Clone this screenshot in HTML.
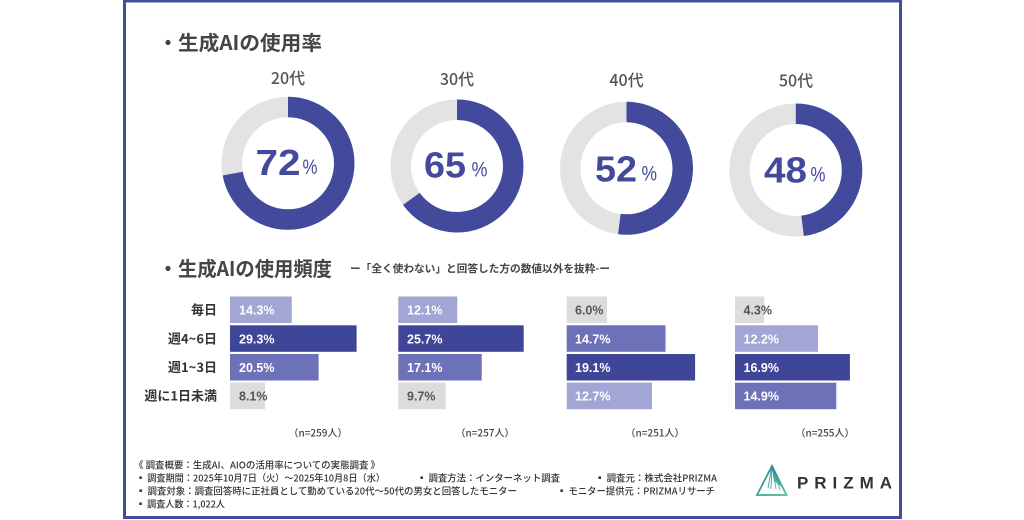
<!DOCTYPE html>
<html lang="ja">
<head>
<meta charset="utf-8">
<style>
  html,body{margin:0;padding:0;background:#ffffff;}
  body{width:1024px;height:520px;overflow:hidden;}
  svg{display:block;}
  .jp{font-family:"Noto Sans CJK JP","Liberation Sans",sans-serif;}
  .lat{font-family:"Liberation Sans","Noto Sans CJK JP",sans-serif;}
</style>
</head>
<body>
<svg width="1024" height="520" viewBox="0 0 1024 520" xmlns="http://www.w3.org/2000/svg">
  <defs>
    <linearGradient id="lg" x1="0" y1="0" x2="1" y2="1">
      <stop offset="0" stop-color="#2f7fa0"/>
      <stop offset="1" stop-color="#4fbf95"/>
    </linearGradient>
  </defs>
  <rect x="0" y="0" width="1024" height="520" fill="#ffffff"/>
  <!-- frame -->
  <rect x="124.5" y="1" width="776" height="516.5" fill="none" stroke="#464c9c" stroke-width="3"/>

  <!-- Title 1 -->
  <text class="jp" x="168" y="50" font-size="20" font-weight="700" fill="#444" text-anchor="middle">・</text>
  <text class="jp" x="178" y="50" font-size="20" font-weight="700" fill="#444" textLength="144" lengthAdjust="spacingAndGlyphs">生成AIの使用率</text>

  <!-- Age labels -->
  <g class="jp" font-size="16" font-weight="500" fill="#555" text-anchor="middle">
    <text x="288" y="84">20代</text>
    <text x="457" y="85">30代</text>
    <text x="626.5" y="86">40代</text>
    <text x="796" y="86.5">50代</text>
  </g>

  <!-- Donuts -->
  <g fill="none" stroke-width="20.5">
    <circle cx="288" cy="163.3" r="56.25" stroke="#e3e3e3"/>
    <circle cx="288" cy="163.3" r="56.25" stroke="#434a9b" stroke-dasharray="254.47 400" transform="rotate(-90 288 163.3)"/>
    <circle cx="457" cy="166" r="56.25" stroke="#e3e3e3"/>
    <circle cx="457" cy="166" r="56.25" stroke="#434a9b" stroke-dasharray="229.73 400" transform="rotate(-90 457 166)"/>
    <circle cx="626.5" cy="168.3" r="56.25" stroke="#e3e3e3"/>
    <circle cx="626.5" cy="168.3" r="56.25" stroke="#434a9b" stroke-dasharray="183.78 400" transform="rotate(-90 626.5 168.3)"/>
    <circle cx="795.8" cy="170" r="56.25" stroke="#e3e3e3"/>
    <circle cx="795.8" cy="170" r="56.25" stroke="#434a9b" stroke-dasharray="169.65 400" transform="rotate(-90 795.8 170)"/>
  </g>

  <!-- Donut numbers -->
  <g class="lat" font-weight="700" font-size="36" fill="#434a9b">
    <text x="255.5" y="175" textLength="45" lengthAdjust="spacingAndGlyphs">72</text>
    <text x="424" y="177.5" textLength="42" lengthAdjust="spacingAndGlyphs">65</text>
    <text x="595" y="181.5" textLength="42" lengthAdjust="spacingAndGlyphs">52</text>
    <text x="764" y="182.5" textLength="43" lengthAdjust="spacingAndGlyphs">48</text>
  </g>
  <g class="lat" font-weight="400" font-size="21" fill="#434a9b">
    <text x="302.5" y="174" textLength="15" lengthAdjust="spacingAndGlyphs">%</text>
    <text x="471.5" y="176.5" textLength="16" lengthAdjust="spacingAndGlyphs">%</text>
    <text x="641.5" y="180.5" textLength="15.5" lengthAdjust="spacingAndGlyphs">%</text>
    <text x="810.5" y="181.5" textLength="15" lengthAdjust="spacingAndGlyphs">%</text>
  </g>

  <!-- Title 2 -->
  <text class="jp" x="168" y="276" font-size="20" font-weight="700" fill="#444" text-anchor="middle">・</text>
  <text class="jp" x="178" y="276" font-size="20" font-weight="700" fill="#444" textLength="154" lengthAdjust="spacingAndGlyphs">生成AIの使用頻度</text>
  <text class="jp" x="350" y="272" font-size="10.5" font-weight="700" fill="#444" textLength="260" lengthAdjust="spacingAndGlyphs">ー「全く使わない」と回答した方の数値以外を抜粋-ー</text>

  <!-- Row labels -->
  <g class="jp" font-size="13" font-weight="700" fill="#333" text-anchor="end">
    <text x="217" y="314.5">毎日</text>
    <text x="217" y="343.3">週4~6日</text>
    <text x="217" y="372">週1~3日</text>
    <text x="217" y="400.7">週に1日未満</text>
  </g>

  <!-- Bars group 1 -->
  <g>
    <rect x="230" y="296.5" width="61.8" height="26.5" fill="#a3a6d5"/>
    <rect x="230" y="325.3" width="126.6" height="26.5" fill="#3f4597"/>
    <rect x="230" y="354" width="88.6" height="26.5" fill="#6d71b7"/>
    <rect x="230" y="382.7" width="35" height="26.5" fill="#dcdcdc"/>
  </g>
  <!-- group 2 -->
  <g>
    <rect x="398.3" y="296.5" width="59" height="26.5" fill="#a3a6d5"/>
    <rect x="398.3" y="325.3" width="125.4" height="26.5" fill="#3f4597"/>
    <rect x="398.3" y="354" width="83.4" height="26.5" fill="#6d71b7"/>
    <rect x="398.3" y="382.7" width="47.3" height="26.5" fill="#dcdcdc"/>
  </g>
  <!-- group 3 -->
  <g>
    <rect x="566.7" y="296.5" width="40.3" height="26.5" fill="#dcdcdc"/>
    <rect x="566.7" y="325.3" width="98.8" height="26.5" fill="#6d71b7"/>
    <rect x="566.7" y="354" width="128.4" height="26.5" fill="#3f4597"/>
    <rect x="566.7" y="382.7" width="85.3" height="26.5" fill="#a3a6d5"/>
  </g>
  <!-- group 4 -->
  <g>
    <rect x="735" y="296.5" width="29.2" height="26.5" fill="#dcdcdc"/>
    <rect x="735" y="325.3" width="83" height="26.5" fill="#a3a6d5"/>
    <rect x="735" y="354" width="114.9" height="26.5" fill="#3f4597"/>
    <rect x="735" y="382.7" width="101.3" height="26.5" fill="#6d71b7"/>
  </g>

  <!-- Bar values -->
  <g class="lat" font-size="12.5" font-weight="700" fill="#ffffff">
    <text x="239" y="314.5">14.3%</text>
    <text x="239" y="343.3">29.3%</text>
    <text x="239" y="372">20.5%</text>
    <text x="239" y="400.7" fill="#555">8.1%</text>

    <text x="407" y="314.5">12.1%</text>
    <text x="407" y="343.3">25.7%</text>
    <text x="407" y="372">17.1%</text>
    <text x="407" y="400.7" fill="#555">9.7%</text>

    <text x="575" y="314.5" fill="#555">6.0%</text>
    <text x="575" y="343.3">14.7%</text>
    <text x="575" y="372">19.1%</text>
    <text x="575" y="400.7">12.7%</text>

    <text x="743.5" y="314.5" fill="#555">4.3%</text>
    <text x="743.5" y="343.3">12.2%</text>
    <text x="743.5" y="372">16.9%</text>
    <text x="743.5" y="400.7">14.9%</text>
  </g>

  <!-- n labels -->
  <g class="jp" font-size="10" font-weight="500" fill="#444" text-anchor="middle">
    <text x="318" y="436.5">（n=259人）</text>
    <text x="485" y="436.5">（n=257人）</text>
    <text x="655" y="436.5">（n=251人）</text>
    <text x="825" y="436.5">（n=255人）</text>
  </g>

  <!-- Footer -->
  <g class="jp" font-size="9.5" font-weight="500" fill="#333">
    <text x="134" y="468.5" textLength="246" lengthAdjust="spacingAndGlyphs">《 調査概要：生成AI、AIOの活用率についての実態調査 》</text>
    <text x="136" y="481.5" textLength="249" lengthAdjust="spacingAndGlyphs">▪ 調査期間：2025年10月7日（火）～2025年10月8日（水）</text>
    <text x="417" y="481.5" textLength="143" lengthAdjust="spacingAndGlyphs">▪ 調査方法：インターネット調査</text>
    <text x="595" y="481.5" textLength="122" lengthAdjust="spacingAndGlyphs">▪ 調査元：株式会社PRIZMA</text>
    <text x="136" y="494.5" textLength="381" lengthAdjust="spacingAndGlyphs">▪ 調査対象：調査回答時に正社員として勤めている20代～50代の男女と回答したモニター</text>
    <text x="557" y="494.5" textLength="158" lengthAdjust="spacingAndGlyphs">▪ モニター提供元：PRIZMAリサーチ</text>
    <text x="136" y="507.5" textLength="89" lengthAdjust="spacingAndGlyphs">▪ 調査人数：1,022人</text>
  </g>

  <!-- Logo -->
  <g>
    <polygon points="772,466 757,495 786.5,495" fill="none" stroke="url(#lg)" stroke-width="1.8" stroke-linejoin="miter"/>
    <polygon points="772,466 774,481 783,488" fill="#3f9aa6" opacity="0.85"/>
    <g stroke="url(#lg)" stroke-width="0.9">
      <line x1="772" y1="466" x2="768" y2="488"/>
      <line x1="772" y1="466" x2="771" y2="489"/>
      <line x1="772" y1="466" x2="776" y2="489"/>
      <line x1="772" y1="466" x2="780" y2="490"/>
      <line x1="772" y1="466" x2="784" y2="490"/>
    </g>
  </g>
  <text class="lat" x="797" y="488.5" font-size="17" font-weight="700" fill="#333" textLength="95" lengthAdjust="spacing">PRIZMA</text>
</svg>
</body>
</html>
